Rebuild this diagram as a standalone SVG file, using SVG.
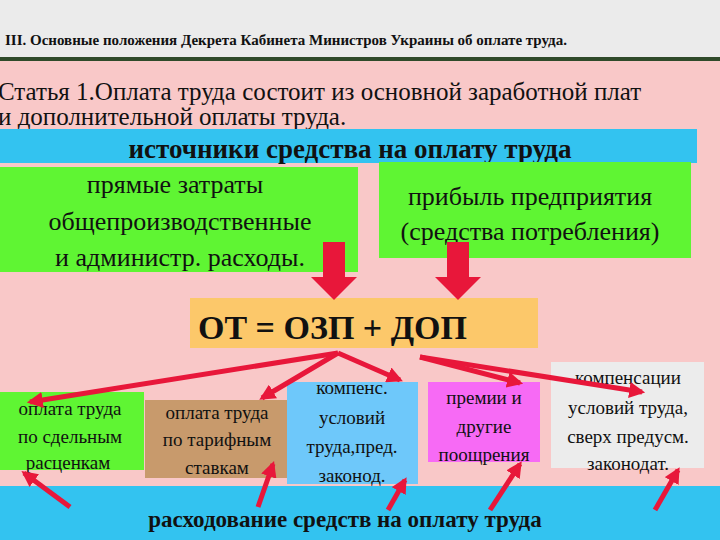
<svg xmlns="http://www.w3.org/2000/svg" width="720" height="540" viewBox="0 0 720 540">
<style>
text{font-family:"Times New Roman","Liberation Serif","Noto Serif",serif;fill:#111}
.c{text-anchor:middle}
.s{font-size:19px}
.a{stroke:#e8173a;stroke-width:5;fill:none}
</style>
<defs>
<marker id="h" viewBox="0 0 10 10" refX="8" refY="5" markerWidth="3.2" markerHeight="3.2" orient="auto"><path d="M0,0L10,5L0,10z" fill="#e8173a"/></marker>
</defs>
<rect width="720" height="540" fill="#f9c8c8"/>
<rect width="720" height="57" fill="#ebebeb"/>
<rect y="57" width="720" height="4" fill="#2f4a2a"/>
<text x="5" y="45" font-size="15" font-weight="bold">III. Основные положения Декрета Кабинета Министров Украины об оплате труда.</text>
<text x="-2" y="100" font-size="25">Статья 1.Оплата труда состоит из основной заработной плат</text>
<text x="-2" y="125" font-size="25">и дополнительной оплаты труда.</text>
<g id="sources"><rect x="0" y="129" width="697" height="34" fill="#33c3f0"/><text class="c" x="350" y="158" font-size="27" font-weight="bold">источники средства на оплату труда</text></g>
<g id="direct"><rect x="0" y="167" width="358" height="105" fill="#5ff533"/>
<text class="c" x="175" y="193" font-size="26">прямые затраты</text>
<text class="c" x="180" y="230" font-size="26">общепроизводственные</text>
<text class="c" x="180" y="266" font-size="26">и администр. расходы.</text></g>
<g id="profit"><rect x="379" y="162" width="312" height="96" fill="#5ff533"/>
<text class="c" x="530" y="205" font-size="26">прибыль предприятия</text>
<text class="c" x="530" y="240" font-size="26">(средства потребления)</text></g>
<g id="ot"><rect x="190" y="298" width="348" height="50" fill="#fcc86a"/><text x="198" y="339" font-size="34" font-weight="bold">ОТ = ОЗП + ДОП</text></g>
<g id="b1"><rect x="0" y="392" width="144" height="78" fill="#5ff533"/>
<text class="c s" x="70" y="415">оплата труда</text><text class="c s" x="70" y="443">по сдельным</text><text class="c s" x="68" y="469">расценкам</text></g>
<g id="b2"><rect x="145" y="400" width="142" height="78" fill="#c89a6c"/>
<text class="c s" x="217" y="419">оплата труда</text><text class="c s" x="217" y="446">по тарифным</text><text class="c s" x="217" y="474">ставкам</text></g>
<g id="b3"><rect x="287" y="382" width="131" height="102" fill="#6ec8fa"/>
<text class="c s" x="352" y="394">компенс.</text><text class="c s" x="352" y="424">условий</text><text class="c s" x="352" y="453">труда,пред.</text><text class="c s" x="352" y="482">законод.</text></g>
<g id="b4"><rect x="428" y="382" width="112" height="80" fill="#f76af5"/>
<text class="c s" x="484" y="404">премии и</text><text class="c s" x="484" y="433">другие</text><text class="c s" x="484" y="461">поощрения</text></g>
<g id="b5"><rect x="551" y="362" width="153" height="106" fill="#ececec"/>
<text class="c s" x="628" y="384">компенсации</text><text class="c s" x="628" y="414">условий труда,</text><text class="c s" x="628" y="443">сверх предусм.</text><text class="c s" x="628" y="470">законодат.</text></g>
<g id="spend"><rect x="0" y="486" width="720" height="54" fill="#33c3f0"/><text class="c" x="345" y="527" font-size="23" font-weight="bold">расходование средств на оплату труда</text></g>
<g id="connectors">
<path d="M323,242h22v35h12l-23,23l-23,-23h12z" fill="#e8173a"/>
<path d="M447,242h22v35h12l-23,23l-23,-23h12z" fill="#e8173a"/>
<g class="a" marker-end="url(#h)">
<path d="M338,353L30,402"/>
<path d="M338,353L262,398"/>
<path d="M338,353L400,380"/>
<path d="M420,357L520,383"/>
<path d="M420,357L642,392"/>
<path d="M70,507L24,473"/>
<path d="M258,507L273,464"/>
<path d="M388,510L405,480"/>
<path d="M490,510L520,464"/>
<path d="M655,510L678,470"/>
</g></g>
</svg>
